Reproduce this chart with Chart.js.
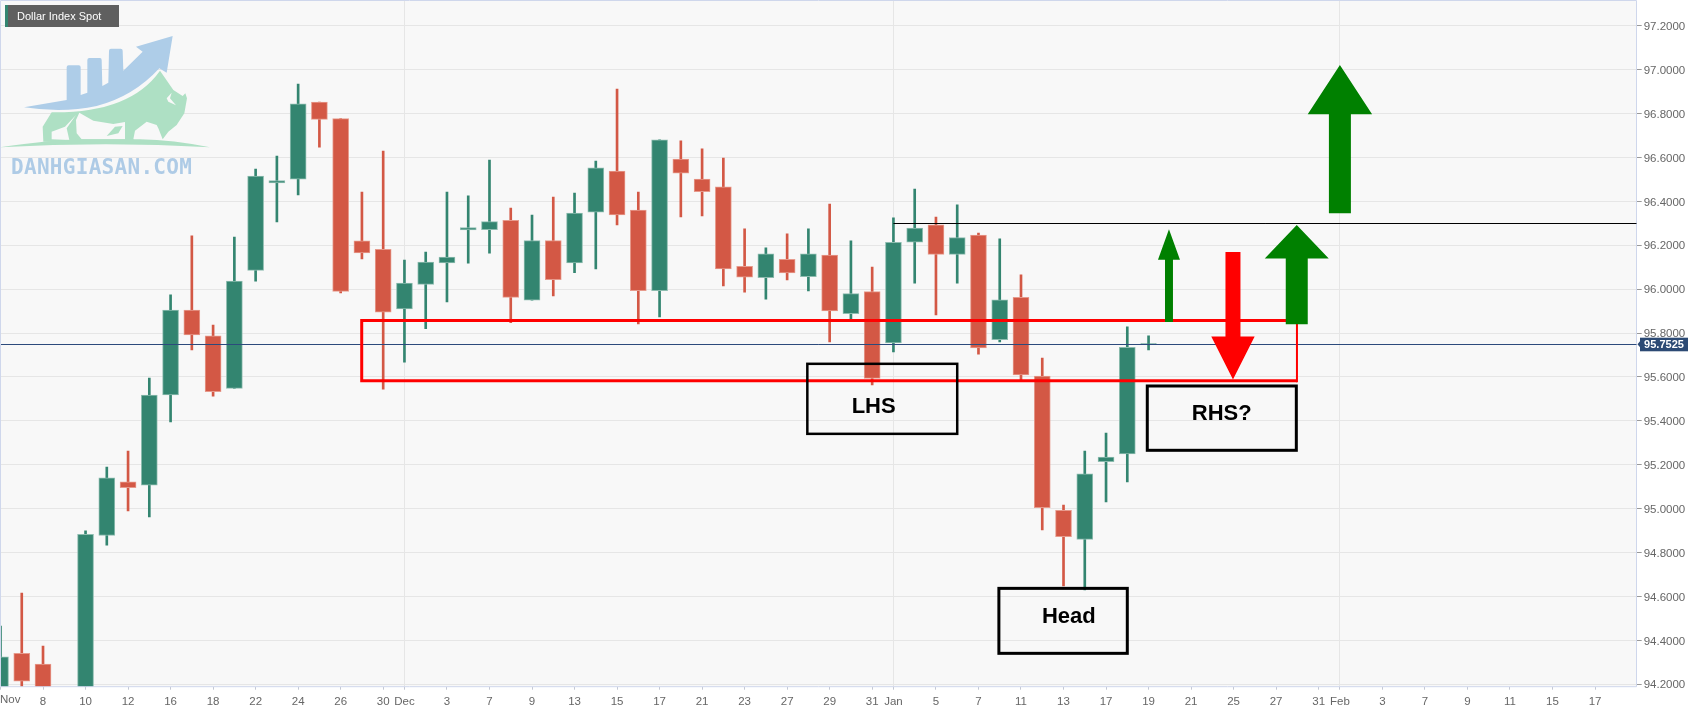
<!DOCTYPE html>
<html><head><meta charset="utf-8">
<style>html,body{margin:0;padding:0;background:#fff;overflow:hidden}canvas{display:block}</style>
<script src="https://cdn.jsdelivr.net/npm/chart.js@4"></script>
</head><body><canvas id="c" width="1707" height="712"></canvas>
<script>
const categories=['Nov','5','8','9','10','11','12','15','16','17','18','19','22','23','24','25','26','29','30','Dec','2','3','6','7','8','9','10','13','14','15','16','17','20','21','22','23','24','27','28','29','30','31','Jan','4','5','6','7','10','11','12','13','14','17','18','19','20','21','24','25','26','27','28','31','Feb','2','3','4','7','8','9','10','11','14','15','16','17','18'];
const tickIndices=[0,2,4,6,8,10,12,14,16,18,19,21,23,25,27,29,31,33,35,37,39,41,42,44,46,48,50,52,54,56,58,60,62,63,65,67,69,71,73,75];
const majorLabels=['Dec','Jan','Feb'];
const priceTicks=[94.2,94.4,94.6,94.8,95.0,95.2,95.4,95.6,95.8,96.0,96.2,96.4,96.6,96.8,97.0,97.2];
const open=[94.10,94.341,94.292,94.05,93.95,94.878,95.122,95.107,95.518,95.905,95.787,95.548,96.086,96.484,96.501,96.852,96.777,96.22,96.182,95.91,96.022,96.12,96.27,96.271,96.314,95.95,96.221,96.12,96.351,96.538,96.36,95.993,96.593,96.502,96.466,96.104,96.052,96.136,96.057,96.155,95.889,95.989,95.755,96.214,96.293,96.159,96.247,95.77,95.963,95.604,94.993,94.86,95.214,95.249,95.75];
const high=[94.465,94.616,94.374,94.12,94.899,95.19,95.262,95.595,95.974,96.243,95.837,96.238,96.547,96.606,96.935,96.853,96.777,96.443,96.629,96.133,96.169,96.443,96.425,96.588,96.37,96.338,96.42,96.438,96.584,96.912,96.443,96.68,96.676,96.639,96.597,96.275,96.188,96.252,96.275,96.388,96.22,96.101,96.325,96.456,96.329,96.384,96.256,96.229,96.065,95.686,95.017,95.262,95.344,95.828,95.787];
const low=[94.05,94.16,94.00,93.85,93.90,94.834,94.99,94.962,95.395,95.723,95.513,95.548,96.037,96.306,96.429,96.647,95.983,96.138,95.545,95.668,95.82,95.942,96.119,96.164,95.848,95.95,95.969,96.075,96.092,96.293,95.842,95.874,96.329,96.334,96.015,95.987,95.955,96.042,95.992,95.76,95.865,95.564,95.714,96.028,95.883,96.028,95.704,95.76,95.583,94.903,94.648,94.63,95.031,95.122,95.723];
const close=[94.325,94.214,94.05,93.90,94.883,95.141,95.096,95.518,95.905,95.792,95.533,96.037,96.515,96.495,96.845,96.774,95.99,96.165,95.895,96.028,96.124,96.146,96.281,96.308,95.963,96.221,96.043,96.347,96.553,96.338,95.993,96.68,96.529,96.444,96.092,96.055,96.161,96.074,96.161,95.901,95.98,95.594,96.214,96.278,96.159,96.235,95.732,95.952,95.609,95.005,94.872,95.159,95.235,95.735,95.7525];
const lastPrice='95.7525';
const lastPriceLevel=95.749;
const resistanceLevel=96.30;
const title='Dollar Index Spot';

const GREEN='#338570',RED='#d35845',GREEN_E='#8dbcaf',RED_E='#e79a8c';
const isUp=open.map((o,i)=>close[i]>=o);
const idx=open.map((_,i)=>i);

function poly(ctx,pts,fill){ctx.beginPath();pts.forEach((p,i)=>i?ctx.lineTo(p[0],p[1]):ctx.moveTo(p[0],p[1]));ctx.closePath();ctx.fillStyle=fill;ctx.fill();}
function noMargins(s){s.paddingLeft=0;s.paddingRight=0;s.paddingTop=0;s.paddingBottom=0;}

const overlay={
 id:'overlay',
 beforeDraw(c){const g=c.ctx,a=c.chartArea;g.save();g.fillStyle='#fff';g.fillRect(0,0,c.width,c.height);g.fillStyle='#f8f8f8';g.fillRect(a.left,a.top,a.right-a.left,a.bottom-a.top);g.restore();},
 beforeDatasetsDraw(c){
  const g=c.ctx;g.save();g.scale(1/3,1/3);
  const blue='#aecde8',mint='#aee0c4',bg='#f8f8f8';
  g.beginPath();g.moveTo(72,322);g.lineTo(200,300);g.lineTo(200,202);g.quadraticCurveTo(200,196,206,196);g.lineTo(236,196);g.quadraticCurveTo(242,196,242,202);g.lineTo(242,285);g.lineTo(262,278);g.lineTo(262,180);g.quadraticCurveTo(262,174,268,174);g.lineTo(300,174);g.quadraticCurveTo(305,174,305,180);g.lineTo(307,258);g.lineTo(325,248);g.lineTo(327,152);g.quadraticCurveTo(327,146,333,146);g.lineTo(362,146);g.quadraticCurveTo(368,146,368,152);g.lineTo(370,212);g.lineTo(428,155);g.lineTo(408,140);g.lineTo(518,108);g.lineTo(500,218);g.lineTo(478,205);g.quadraticCurveTo(400,290,290,318);g.quadraticCurveTo(190,340,72,322);g.closePath();g.fillStyle=blue;g.fill();
  g.beginPath();g.moveTo(155,337);g.quadraticCurveTo(390,340,480,212);g.lineTo(520,270);g.lineTo(548,288);g.lineTo(556,280);g.lineTo(561,295);g.lineTo(553,340);g.lineTo(530,375);g.lineTo(505,395);g.lineTo(488,418);g.lineTo(475,385);g.lineTo(470,375);g.lineTo(440,365);g.lineTo(405,392);g.lineTo(400,418);g.lineTo(420,432);g.lineTo(130,425);g.lineTo(128,380);g.closePath();g.fillStyle=mint;g.fill();
  poly(g,[[155,418],[155,395],[195,380],[228,345],[200,385],[208,420]],bg);
  poly(g,[[228,360],[238,338],[280,362],[340,372],[375,366],[375,418],[245,418],[230,400]],bg);
  poly(g,[[320,408],[345,380],[368,378],[355,400]],mint);
  poly(g,[[500,295],[515,278],[510,295],[528,316],[505,305]],bg);
  g.beginPath();g.moveTo(0,442);g.quadraticCurveTo(150,420,250,418);g.lineTo(420,418);g.quadraticCurveTo(520,420,630,442);g.quadraticCurveTo(320,424,0,442);g.closePath();g.fillStyle=mint;g.fill();
  g.restore();
  g.save();g.font='bold 21px "DejaVu Sans Mono"';g.fillStyle='#aecbe6';g.textBaseline='alphabetic';g.textAlign='left';g.letterSpacing='0.3px';g.fillText('DANHGIASAN.COM',11,174);g.restore();
 },
 afterDraw(c){
  const g=c.ctx,a=c.chartArea,X=v=>c.scales.x.getPixelForValue(v),Y=v=>c.scales.y.getPixelForValue(v);
  const snap=v=>Math.round(v-.5)+.5;
  g.save();
  // plot frame
  g.strokeStyle='#cfd7ec';g.lineWidth=1;
  g.beginPath();g.moveTo(.5,a.bottom);g.lineTo(.5,.5);g.lineTo(snap(a.right),.5);g.lineTo(snap(a.right),a.bottom);g.lineTo(.5,a.bottom);g.stroke();
  // first axis label is pushed inside the page
  g.font='11.5px "Liberation Sans"';g.fillStyle='#666';g.textAlign='left';g.textBaseline='middle';g.fillText(categories[0],0,700);
  // levels
  g.beginPath();g.rect(a.left,a.top,a.right-a.left,a.bottom-a.top);g.clip();
  g.strokeStyle='#000';g.lineWidth=1;g.beginPath();g.moveTo(X(42),snap(Y(resistanceLevel)));g.lineTo(a.right,snap(Y(resistanceLevel)));g.stroke();
  g.strokeStyle='#2c4a7c';g.beginPath();g.moveTo(a.left,snap(Y(lastPriceLevel)));g.lineTo(a.right,snap(Y(lastPriceLevel)));g.stroke();
  // zone
  const zl=X(16.99),zr=X(60.98),zt=Y(95.857),zb=Y(95.583);
  g.strokeStyle='#ff0000';g.lineWidth=3;g.beginPath();g.moveTo(zr,zt);g.lineTo(zl,zt);g.lineTo(zl,zb);g.lineTo(zr,zb);g.stroke();
  g.lineWidth=2;g.beginPath();g.moveTo(zr,zt-1.5);g.lineTo(zr,zb+1.5);g.stroke();
  // boxes + text
  g.strokeStyle='#000';
  [[37.95,45.0,95.66,95.341,2.5],[46.96,53.0,94.637,94.341,3],[53.94,60.95,95.559,95.266,3]].forEach(b=>{g.lineWidth=b[4];g.strokeRect(X(b[0]),Y(b[2]),X(b[1])-X(b[0]),Y(b[3])-Y(b[2]));});
  g.fillStyle='#000';g.font='bold 22px "Liberation Sans"';g.textAlign='center';g.textBaseline='alphabetic';
  [['LHS',41.07,95.438],['Head',50.25,94.478],['RHS?',57.44,95.404]].forEach(t=>g.fillText(t[0],X(t[1]),Y(t[2])));
  // arrows: centre, tip, head base, tail, shaft half width, head half width
  [[54.96,96.273,96.134,95.85,4,11,'#008000'],[57.97,95.589,95.784,96.17,7.5,21.7,'#ff0000'],[60.97,96.293,96.14,95.84,11,32,'#008000'],[63.0,97.021,96.797,96.346,11,32.2,'#008000']].forEach(r=>{
   const x=X(r[0]),sw=r[4],hw=r[5];
   poly(g,[[x,Y(r[1])],[x+hw,Y(r[2])],[x+sw,Y(r[2])],[x+sw,Y(r[3])],[x-sw,Y(r[3])],[x-sw,Y(r[2])],[x-hw,Y(r[2])]],r[6]);
  });
  g.restore();
  // tag
  g.save();
  g.fillStyle='#5f5f5f';g.fillRect(5,5,114,22);g.fillStyle='#338570';g.fillRect(5,5,3,22);
  g.fillStyle='#fff';g.font='11px "Liberation Sans"';g.textAlign='left';g.textBaseline='middle';g.fillText(title,17,17);
  // last price label
  const ly=Y(lastPriceLevel);
  g.fillStyle='#2c4a74';g.fillRect(1640,ly-6.6,48,13.6);
  poly(g,[[1640,ly-3],[1637.5,ly],[1640,ly+3]],'#2c4a74');
  g.fillStyle='#fff';g.font='bold 11px "Liberation Sans"';g.textAlign='center';g.textBaseline='middle';g.fillText(lastPrice,1664,ly+.8);
  g.restore();
 }
};

new Chart(document.getElementById('c'),{
 type:'bar',
 data:{datasets:[
  {label:'Body',order:1,grouped:false,barThickness:16,borderSkipped:false,borderWidth:1,
   data:idx.map(i=>({x:i,y:[Math.min(open[i],close[i]),Math.max(open[i],close[i])]})),
   backgroundColor:idx.map(i=>isUp[i]?GREEN:RED),borderColor:idx.map(i=>isUp[i]?GREEN_E:RED_E)},
  {label:'Wick',order:2,grouped:false,barThickness:2,borderWidth:0,
   data:idx.map(i=>({x:i,y:[low[i],high[i]]})),
   backgroundColor:idx.map(i=>isUp[i]?GREEN:RED)}
 ]},
 options:{
  responsive:false,animation:false,devicePixelRatio:1,
  layout:{padding:{left:1,top:1,right:0,bottom:0}},
  plugins:{legend:{display:false},tooltip:{enabled:false},title:{display:false}},
  scales:{
   x:{type:'linear',offset:false,min:0.0235,max:76.96,
    grid:{offset:false,color:c=>c.tick&&majorLabels.includes(categories[c.tick.value])?'#e6e6e6':'rgba(0,0,0,0)',tickColor:'#c4c8d4',tickLength:3,drawTicks:true},
    border:{display:false},
    afterBuildTicks(s){s.ticks=tickIndices.map(v=>({value:v}));},
    afterFit(s){s.height=25.3;noMargins(s);},
    ticks:{autoSkip:false,maxRotation:0,padding:5,color:'#666',font:{family:'"Liberation Sans"',size:11.5},callback:v=>v===0?'':categories[v]}
   },
   y:{type:'linear',position:'right',min:94.189,max:97.313,
    grid:{color:'#e6e6e6',tickColor:'#999',tickLength:5,drawTicks:true},
    border:{display:false},
    afterBuildTicks(s){s.ticks=priceTicks.map(v=>({value:v}));},
    afterFit(s){s.width=70.3;noMargins(s);},
    ticks:{autoSkip:false,padding:2,labelOffset:1,color:'#666',font:{family:'"Liberation Sans"',size:11.5},callback:v=>v.toFixed(4)}
   }
  }
 },
 plugins:[overlay]
});
</script></body></html>
